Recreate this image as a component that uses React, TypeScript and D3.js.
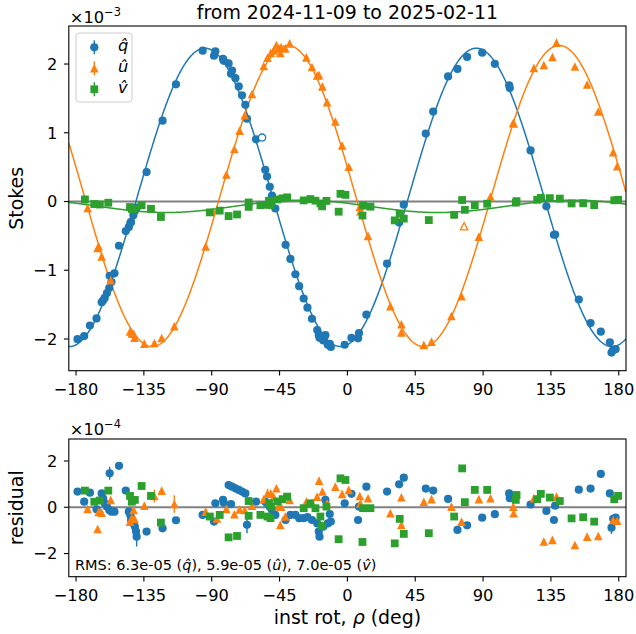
import React from "react";
import * as d3 from "d3";

// ---- data (angles in degrees, Stokes in units of 1e-3, residuals in units of 1e-4) ----
const xTicks = [-180, -135, -90, -45, 0, 45, 90, 135, 180];
const stokesTicks = [-2, -1, 0, 1, 2];
const residualTicks = [-2, 0, 2];

const seriesLabels = ["q", "u", "v"];
const seriesColors = ["#1f77b4", "#ff7f0e", "#2ca02c"];

// fitted model: offset + amplitude * cos(2 (rho - peak))
const fitOffset = [0.06, 0.08, -0.07];
const fitAmplitude = [2.17, 2.19, 0.09];
const fitPeakAngle = [85.5, -39.5, -30];

// [rho, residual, error?]
const qPoints: number[][] = [
  [-179, 0.68], [-174.6, 0.24], [-170.8, 0.63, 0.15], [-166.4, -0.09], [-163, 0.6], [-162, 0.38],
  [-161, 0.17], [-159.5, 0.03], [-158, -0.12], [-156.5, -0.19], [-154.5, -0.19], [-157.7, 1.47, 0.28],
  [-151.5, 1.79], [-147, 0.72], [-145, -0.19], [-144, -0.33], [-143.5, -0.55], [-142, -0.69],
  [-141, -0.83], [-140.2, -1.05], [-139.8, -1.27, 0.42], [-133.2, -1.05], [-122.6, -0.91],
  [-113.7, -0.56], [-96, -0.33], [-88.5, -0.62], [-87.6, 0.17], [-82.5, 0.32], [-82, 0.2],
  [-78.8, 0.96], [-76.5, 0.89], [-74.3, 0.82], [-72.1, 0.75], [-69.9, 0.68], [-67.7, 0.6],
  [-77.2, 0.14], [-66.6, -0.76, 0.36], [-60.6, 0.24], [-54.5, 0.24], [-53.3, 0.17], [-51.5, 0.03],
  [-50, -0.12], [-47.8, -0.33], [-41, -0.55], [-37.8, -0.33], [-34.5, -0.33], [-32, -0.47],
  [-29, -0.47], [-26.5, -0.43], [-23.5, -0.55], [-20, -0.7], [-19, -1.05], [-18.5, -1.27],
  [-16, -0.84], [-14.6, 0.32], [-13, -0.7], [-11, -0.62], [-11.7, -0.29], [-1.8, 0.17], [2.7, 0.58],
  [7.1, -0.55], [7.7, 0.03], [12.6, 0.89], [26.3, 0.68], [34.3, 0.99], [37.4, 1.28], [52, 0.81],
  [56.9, 0.72], [66.8, 0.36], [73, -0.98], [79.4, -0.78], [89.4, -0.45], [97.8, -0.3], [107.3, 0.6],
  [107.7, 0.39], [121.5, 0.12], [132, -0.16], [137, -0.55], [137.8, 0.07], [153.5, 0.76],
  [161.3, 0.81], [168.1, 1.44], [174.1, 0.6], [175.2, -0.88, 0.28], [176.3, -0.5], [177.9, -0.45],
];

const uPoints: number[][] = [
  [-172.3, -0.07], [-165.7, -0.94], [-165, -0.2], [-163, -0.23], [-157, 0.32], [-144.2, -0.62],
  [-143, -0.47], [-141.8, -0.12], [-141.2, -0.5], [-134.7, 0.07], [-128, 0.49, 0.28], [-123.2, 0.72],
  [-114.8, 0.14, 0.38], [-94, -0.19], [-86.5, -0.48], [-80.3, -0.07], [-75, -0.3], [-71.5, -0.09],
  [-68.1, -0.12], [-63.3, 0.07], [-55.5, 0.35], [-53, 0.6, 0.2], [-50.8, 0.6], [-48.9, 0.46],
  [-47.1, 0.82], [-45.5, 0.05], [-44, 0.03], [-44.5, -0.76], [-41.2, -0.4], [-38.3, 0.32],
  [-27.2, 0.25], [-23.5, 0.2], [-20.1, 0.46], [-18.8, 1.15], [-16.6, 0.68], [-13.5, 0.17], [-8, 0.89],
  [-3.5, 0.58], [0.9, 0.75], [8.2, 0.49], [8.6, 0.17], [13.7, 0.39], [28.5, -0.26], [35.8, 0.43],
  [35.8, -0.76], [50.7, 0.24], [55.8, 0.35], [69, 0.03], [75.7, -0.62], [87.2, 0.35], [94.9, 0.39],
  [110, 0.03], [110.3, -0.26], [123.7, 0.39], [130.3, -1.48], [136, -1.41], [138.7, 0.46],
  [150.9, -1.63], [159, -1.27], [166.4, -1.24], [176.3, -0.55], [179, -0.58],
];

const vPoints: number[][] = [
  [-174.1, 0.72], [-167.9, 0.24], [-164.2, 0.29], [-158.6, 0.72], [-144.2, 0.49], [-143, 0.24],
  [-141, 0.32], [-136.5, 0.92], [-130.3, 0.49], [-123.7, -0.66], [-91.2, -0.4], [-84.7, -0.33],
  [-78.8, -1.3], [-73.2, -1.24], [-65.5, 0.27], [-65.5, -0.37], [-57.7, -0.33], [-53, -0.4],
  [-51, -0.47], [-52, 0.17], [-50.8, 0.03], [-46.5, 0.25], [-43, 0.35], [-40, 0.46], [-29, -0.04],
  [-24.6, 0.17], [-21.2, -0.04], [-17.9, -0.4], [-16.8, -0.81], [-13.9, 0.03], [-4.6, 1.25],
  [-1.3, 1.18], [-5.8, -1.38], [10.4, -0.04], [15.3, -0.04], [10, -1.5], [31.4, -1.56], [34.7, -0.5],
  [37.4, -1.15], [54, -1.12], [70.8, -0.4], [76.1, 1.68], [77.9, 0.22], [84.5, 0.75], [92.7, 0.75],
  [111.7, 0.32], [112.2, 0.53], [125.9, 0.35], [128.3, 0.58], [134.3, 0.42], [140.9, 0.27],
  [148.7, -0.48], [156.4, -0.43], [163.7, -0.62], [177, 0.35], [179.6, 0.49],
];

// points excluded from the fit: [rho, Stokes]
const qRejected: number[][] = [[-56.6, 0.93]];
const uRejected: number[][] = [[77.4, -0.36]];

const rmsValues = ["6.3e-05", "5.9e-05", "7.0e-05"];
const dateRange = ["2024-11-09", "2025-02-11"];

const defaultError = 0.1;

// ---- layout ----
const FONT = "DejaVu Sans";
const TICK_FS = 16.25;
const LABEL_FS = 18.95;
const LEFT = 68.8;
const RIGHT = 626;
const TOP1 = 26;
const BOT1 = 370.7;
const TOP2 = 439;
const BOT2 = 576.7;

const fmt = (v: number) => (v < 0 ? "\u2212" + Math.abs(v) : String(v));

function fitValue(i: number, rho: number) {
  return fitOffset[i] + fitAmplitude[i] * Math.cos((2 * (rho - fitPeakAngle[i]) * Math.PI) / 180);
}

function Marker({ kind, cx, cy, color, open }: { kind: number; cx: number; cy: number; color: string; open?: boolean }) {
  const fill = open ? "white" : color;
  const stroke = open ? color : "none";
  const sw = open ? 1.3 : 0;
  if (kind === 0) return <circle cx={cx} cy={cy} r={open ? 3.6 : 4.1} fill={fill} stroke={stroke} strokeWidth={sw} />;
  if (kind === 1) {
    const s = open ? 3.7 : 4.3;
    return (
      <path d={`M${cx},${cy - s}L${cx + s},${cy + s}L${cx - s},${cy + s}Z`} fill={fill} stroke={stroke} strokeWidth={sw} />
    );
  }
  const s = 3.9;
  return <rect x={cx - s} y={cy - s} width={2 * s} height={2 * s} fill={fill} stroke={stroke} strokeWidth={sw} />;
}

function Hat({ letter }: { letter: string }) {
  return <tspan fontStyle="italic">{letter + "\u0302"}</tspan>;
}

export default function App() {
  const x = d3.scaleLinear().domain([-184.8, 184.8]).range([LEFT, RIGHT]);
  const yTop = d3.scaleLinear().domain([-2.461, 2.553]).range([BOT1, TOP1]);
  const yBot = d3.scaleLinear().domain([-3.0, 2.95]).range([BOT2, TOP2]);

  const grid = d3.range(-184.8, 184.81, 0.4);
  const allSeries = [qPoints, uPoints, vPoints];
  const rejected = [qRejected, uRejected, []];

  const midX = (LEFT + RIGHT) / 2;

  const xAxis = (bottom: number) => (
    <g>
      {xTicks.map((t) => (
        <g key={t}>
          <line x1={x(t)} x2={x(t)} y1={bottom} y2={bottom + 4.9} stroke="black" strokeWidth={1.1} />
          <text x={x(t)} y={bottom + 24.3} textAnchor="middle" fontSize={TICK_FS}>
            {fmt(t)}
          </text>
        </g>
      ))}
    </g>
  );

  const yAxis = (ticks: number[], scale: d3.ScaleLinear<number, number>) => (
    <g>
      {ticks.map((t) => (
        <g key={t}>
          <line x1={LEFT - 4.9} x2={LEFT} y1={scale(t)} y2={scale(t)} stroke="black" strokeWidth={1.1} />
          <text x={LEFT - 11.5} y={scale(t) + 5.9} textAnchor="end" fontSize={TICK_FS}>
            {fmt(t)}
          </text>
        </g>
      ))}
    </g>
  );

  const line = (i: number) =>
    d3
      .line<number>()
      .x((r) => x(r))
      .y((r) => yTop(fitValue(i, r)))(grid) as string;

  return (
    <svg
      width={636}
      height={634}
      style={{ position: "absolute", left: 0, top: 0, background: "white" }}
      fontFamily={FONT}
      fill="black"
    >
      <defs>
        <clipPath id="clipTop">
          <rect x={LEFT} y={TOP1} width={RIGHT - LEFT} height={BOT1 - TOP1} />
        </clipPath>
        <clipPath id="clipBot">
          <rect x={LEFT} y={TOP2} width={RIGHT - LEFT} height={BOT2 - TOP2} />
        </clipPath>
      </defs>
      <rect x={0} y={0} width={636} height={634} fill="white" />

      {/* title */}
      <text x={midX} y={19} textAnchor="middle" fontSize={LABEL_FS}>
        {`from ${dateRange[0]} to ${dateRange[1]}`}
      </text>

      {/* ---------- Stokes panel ---------- */}
      <g clipPath="url(#clipTop)">
        <line x1={LEFT} x2={RIGHT} y1={yTop(0)} y2={yTop(0)} stroke="#808080" strokeWidth={2} />
        {[0, 1, 2].map((i) => (
          <path key={i} d={line(i)} fill="none" stroke={seriesColors[i]} strokeWidth={1.5} />
        ))}
        {allSeries.map((pts, i) => (
          <g key={i}>
            {pts.map((p, j) => {
              const val = fitValue(i, p[0]) + p[1] / 10;
              const err = (p[2] ?? defaultError) / 10;
              return (
                <g key={j}>
                  <line
                    x1={x(p[0])}
                    x2={x(p[0])}
                    y1={yTop(val - err)}
                    y2={yTop(val + err)}
                    stroke={seriesColors[i]}
                    strokeWidth={1.4}
                  />
                  <Marker kind={i} cx={x(p[0])} cy={yTop(val)} color={seriesColors[i]} />
                </g>
              );
            })}
            {rejected[i].map((p, j) => (
              <Marker key={"r" + j} kind={i} cx={x(p[0])} cy={yTop(p[1])} color={seriesColors[i]} open />
            ))}
          </g>
        ))}
      </g>
      <rect x={LEFT} y={TOP1} width={RIGHT - LEFT} height={BOT1 - TOP1} fill="none" stroke="black" strokeWidth={1.1} />
      {xAxis(BOT1)}
      {yAxis(stokesTicks, yTop)}
      <text x={LEFT + 1} y={22.5} fontSize={TICK_FS}>
        {"\u00d710"}
        <tspan fontSize={11.4} dy={-7}>
          {"\u22123"}
        </tspan>
      </text>
      <text transform={`translate(23,${(TOP1 + BOT1) / 2}) rotate(-90)`} textAnchor="middle" fontSize={LABEL_FS}>
        Stokes
      </text>

      {/* legend */}
      <g>
        <rect x={76} y={33} width={56} height={69} rx={3} fill="white" fillOpacity={0.8} stroke="#cccccc" strokeWidth={1} />
        {[0, 1, 2].map((i) => {
          const cy = 47.3 + i * 21;
          return (
            <g key={i}>
              <line x1={94.3} x2={94.3} y1={cy - 7} y2={cy + 7} stroke={seriesColors[i]} strokeWidth={1.4} />
              <Marker kind={i} cx={94.3} cy={cy} color={seriesColors[i]} />
              <text x={118} y={cy + 3.8} fontSize={TICK_FS}>
                <Hat letter={seriesLabels[i]} />
              </text>
            </g>
          );
        })}
      </g>

      {/* ---------- residual panel ---------- */}
      <g clipPath="url(#clipBot)">
        <line x1={LEFT} x2={RIGHT} y1={yBot(0)} y2={yBot(0)} stroke="#808080" strokeWidth={2} />
        {allSeries.map((pts, i) => (
          <g key={i}>
            {pts.map((p, j) => {
              const err = p[2] ?? defaultError;
              return (
                <g key={j}>
                  <line
                    x1={x(p[0])}
                    x2={x(p[0])}
                    y1={yBot(p[1] - err)}
                    y2={yBot(p[1] + err)}
                    stroke={seriesColors[i]}
                    strokeWidth={1.4}
                  />
                  <Marker kind={i} cx={x(p[0])} cy={yBot(p[1])} color={seriesColors[i]} />
                </g>
              );
            })}
          </g>
        ))}
      </g>
      <rect x={LEFT} y={TOP2} width={RIGHT - LEFT} height={BOT2 - TOP2} fill="none" stroke="black" strokeWidth={1.1} />
      {xAxis(BOT2)}
      {yAxis(residualTicks, yBot)}
      <text x={LEFT + 1} y={435} fontSize={TICK_FS}>
        {"\u00d710"}
        <tspan fontSize={11.4} dy={-7}>
          {"\u22124"}
        </tspan>
      </text>
      <text transform={`translate(23,${(TOP2 + BOT2) / 2}) rotate(-90)`} textAnchor="middle" fontSize={LABEL_FS}>
        residual
      </text>
      <text x={75} y={570} fontSize={14.5}>
        {`RMS: ${rmsValues[0]} (`}
        <Hat letter="q" />
        {`), ${rmsValues[1]} (`}
        <Hat letter="u" />
        {`), ${rmsValues[2]} (`}
        <Hat letter="v" />
        {")"}
      </text>

      <text x={midX} y={624} textAnchor="middle" fontSize={LABEL_FS}>
        {"inst rot, "}
        <tspan fontStyle="italic">{"\u03c1"}</tspan>
        {" (deg)"}
      </text>
    </svg>
  );
}
